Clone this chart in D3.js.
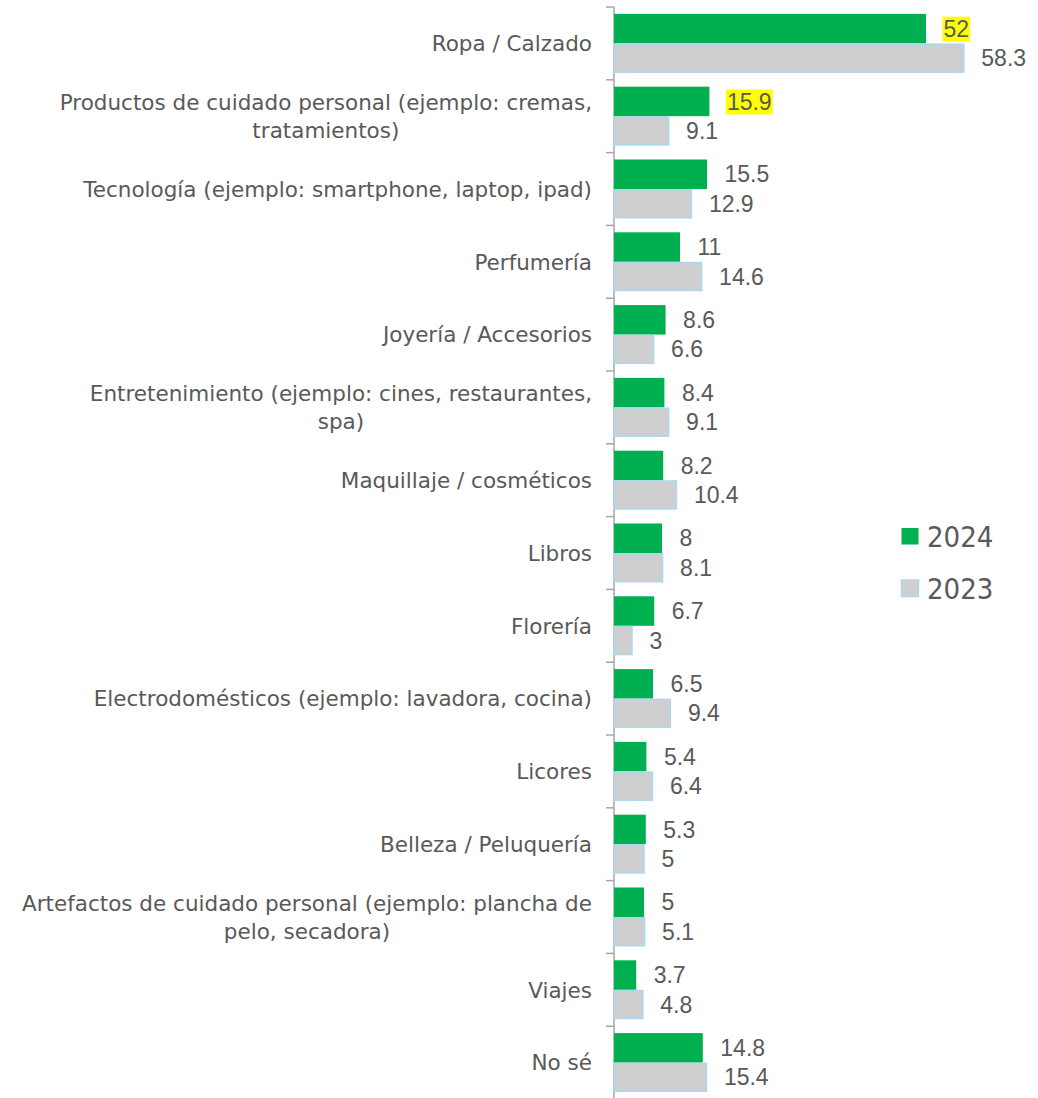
<!DOCTYPE html>
<html>
<head>
<meta charset="utf-8">
<script src="https://cdn.jsdelivr.net/npm/d3@7"></script>
<style>
  html, body { margin: 0; padding: 0; background: #ffffff; }
  svg { display: block; }
</style>
</head>
<body>
<svg id="chart" width="1038" height="1098"></svg>
<script>
// Categories (line breaks mark where long labels wrap)
const categories = [
  "Ropa / Calzado",
  "Productos de cuidado personal (ejemplo: cremas,\ntratamientos)",
  "Tecnología (ejemplo: smartphone, laptop, ipad)",
  "Perfumería",
  "Joyería / Accesorios",
  "Entretenimiento (ejemplo: cines, restaurantes,\nspa)",
  "Maquillaje / cosméticos",
  "Libros",
  "Florería",
  "Electrodomésticos (ejemplo: lavadora, cocina)",
  "Licores",
  "Belleza / Peluquería",
  "Artefactos de cuidado personal (ejemplo: plancha de\npelo, secadora)",
  "Viajes",
  "No sé"
];
const values2024 = [52, 15.9, 15.5, 11, 8.6, 8.4, 8.2, 8, 6.7, 6.5, 5.4, 5.3, 5, 3.7, 14.8];
const values2023 = [58.3, 9.1, 12.9, 14.6, 6.6, 9.1, 10.4, 8.1, 3, 9.4, 6.4, 5, 5.1, 4.8, 15.4];
const seriesNames = ["2024", "2023"];
// Labels shown on a yellow highlight
const highlighted2024 = ["Ropa / Calzado", "Productos de cuidado personal (ejemplo: cremas,\ntratamientos)"];

const svg = d3.select("#chart");
const axisX = 614;

const x = d3.scaleLinear().domain([0, 70]).range([axisX, axisX + 420]);
const y = d3.scaleBand().domain(categories).range([7, 1099]).padding(0);
const sub = d3.scaleBand().domain(seriesNames).range([0, 59]).padding(0);
const barOffset = (y.bandwidth() - 59) / 2;

const colors = { "2024": "#00b050", "2023": "#cfcfcf" };
const strokeColor = "#a9d9ef";
const textColor = "#595959";

const rows = categories.map((c, i) => ({ cat: c, "2024": values2024[i], "2023": values2023[i] }));

// Category axis: vertical line with ticks at band boundaries
const axisG = svg.append("g");
axisG.append("line")
  .attr("x1", axisX).attr("x2", axisX)
  .attr("y1", y.range()[0]).attr("y2", y.range()[1])
  .attr("stroke", "#a6a6a6").attr("stroke-width", 1.5);
const bounds = categories.map(c => y(c));
axisG.selectAll("line.tick").data(bounds).enter().append("line")
  .attr("class", "tick")
  .attr("x1", axisX - 8).attr("x2", axisX)
  .attr("y1", d => d).attr("y2", d => d)
  .attr("stroke", "#a6a6a6").attr("stroke-width", 1.5);

// Category labels
const labelG = svg.append("g")
  .attr("font-family", "'DejaVu Sans', Tahoma, sans-serif")
  .attr("font-size", 21.5)
  .attr("fill", textColor);
rows.forEach(r => {
  const lines = r.cat.split("\n");
  const cy = y(r.cat) + y.bandwidth() / 2;
  const lineH = 28;
  const t = labelG.append("text").attr("text-anchor", "middle");
  const spans = lines.map((ln, k) => t.append("tspan")
    .attr("y", cy + (k - (lines.length - 1) / 2) * lineH)
    .attr("dy", "0.36em")
    .text(ln));
  // right-align the block, centre the lines within it
  const widths = spans.map(s => s.node().getComputedTextLength());
  const maxW = d3.max(widths);
  const centre = 592 - maxW / 2;
  spans.forEach(s => s.attr("x", centre));
});

// Bars
const barG = svg.append("g");
seriesNames.forEach(s => {
  barG.selectAll("rect.s" + s).data(rows).enter().append("rect")
    .attr("x", x(0))
    .attr("y", d => y(d.cat) + barOffset + sub(s) + (s === "2023" ? 0.75 : 0))
    .attr("width", d => x(d[s]) - x(0))
    .attr("height", s === "2023" ? sub.bandwidth() - 1.5 : sub.bandwidth())
    .attr("fill", colors[s])
    .attr("stroke", s === "2023" ? strokeColor : "none")
    .attr("stroke-width", s === "2023" ? 1.5 : 0);
});

// Value labels
const valG = svg.append("g")
  .attr("font-family", "'Liberation Sans', Arial, sans-serif")
  .attr("font-size", 23)
  .attr("fill", textColor);
seriesNames.forEach(s => {
  rows.forEach(d => {
    const tx = x(d[s]) + 17.5;
    const ty = y(d.cat) + barOffset + sub(s) + sub.bandwidth() / 2;
    if (s === "2024" && highlighted2024.includes(d.cat)) {
      const tmp = valG.append("text").attr("x", tx).attr("y", ty).attr("dy", "0.35em").text(d[s]);
      const bb = tmp.node().getBBox();
      tmp.remove();
      valG.append("rect")
        .attr("x", bb.x - 1).attr("y", bb.y + 1)
        .attr("width", bb.width + 2).attr("height", bb.height - 1)
        .attr("fill", "#ffff00");
    }
    valG.append("text")
      .attr("x", tx).attr("y", ty).attr("dy", "0.35em")
      .text(d[s]);
  });
});

// Legend
const legend = svg.append("g")
  .attr("font-family", "'DejaVu Sans Condensed', 'DejaVu Sans', Tahoma, sans-serif")
  .attr("font-stretch", "condensed")
  .attr("font-size", 29)
  .attr("fill", textColor);
seriesNames.forEach((s, i) => {
  const ly = 536 + i * 52;
  legend.append("rect")
    .attr("x", 901.5).attr("y", ly - 8)
    .attr("width", 17).attr("height", 16.5)
    .attr("fill", colors[s])
    .attr("stroke", s === "2023" ? strokeColor : "none")
    .attr("stroke-width", s === "2023" ? 1.5 : 0);
  legend.append("text")
    .attr("x", 927).attr("y", ly + 1).attr("dy", "0.36em")
    .text(s);
});
</script>
</body>
</html>
